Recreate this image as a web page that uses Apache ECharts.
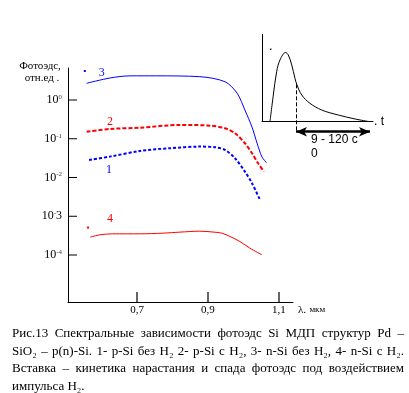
<!DOCTYPE html>
<html>
<head>
<meta charset="utf-8">
<script src="https://cdn.jsdelivr.net/npm/echarts@6/dist/echarts.min.js"></script>
<style>html,body{margin:0;padding:0;background:#fff;}#c{width:409px;height:393px;}</style>
</head>
<body>
<div id="c"></div>
<script>
// ---- data ----
const xTicks = [0.7, 0.9, 1.1];
const yTicks = [1e-4, 1e-3, 1e-2, 1e-1, 1];

// curve 3: n-Si без H2 (solid blue)
const lam3 = [0.558, 0.624, 0.680, 0.754, 0.877, 0.948, 0.982, 1.004, 1.024, 1.038, 1.052, 1.065];
const val3 = [2.7, 3.7, 4.2, 4.2, 4.0, 2.96, 1.5, 0.55, 0.20, 0.078, 0.034, 0.024];
// curve 2: p-Si с H2 (red dashed)
const lam2 = [0.558, 0.624, 0.708, 0.821, 0.906, 0.948, 0.976, 1.004, 1.024, 1.041, 1.058];
const val2 = [0.152, 0.179, 0.193, 0.227, 0.218, 0.187, 0.139, 0.0766, 0.0423, 0.0233, 0.0142];
// curve 1: p-Si без H2 (blue dashed)
const lam1 = [0.565, 0.624, 0.708, 0.793, 0.877, 0.920, 0.948, 0.976, 1.004, 1.024, 1.046];
const val1 = [0.0284, 0.0346, 0.0485, 0.0569, 0.0627, 0.0604, 0.0514, 0.0314, 0.0142, 0.00713, 0.00269];
// curve 4: n-Si с H2 (red solid)
const lam4 = [0.568, 0.596, 0.632, 0.708, 0.773, 0.821, 0.877, 0.917, 0.939, 0.962, 0.990, 1.018, 1.052];
const val4 = [2.89e-4, 3.32e-4, 3.52e-4, 3.52e-4, 3.66e-4, 3.89e-4, 4.12e-4, 3.89e-4, 3.66e-4, 3.0e-4, 2.23e-4, 1.50e-4, 1.01e-4];

// inset: kinetics of photo-emf (arbitrary units)
const insetT = [7.2, 10.2, 13.2, 16.2, 21.2, 23.7, 26.8, 29.7, 31.3, 35.8, 43.2, 53.8, 68.7, 83.8, 95.8];
const insetV = [0, 30.3, 56.9, 70.3, 78.9, 76.0, 64.6, 49.4, 42.5, 30.3, 20.8, 13.1, 7.4, 2.9, 0];

const curveLabels = ['1', '2', '3', '4'];
const captionLines = [
  'Рис.13 Спектральные зависимости фотоэдс Si МДП структур Pd –',
  'SiO₂ – p(n)-Si. 1- p-Si без H₂ 2- p-Si с H₂, 3- n-Si без H₂, 4- n-Si с H₂.',
  'Вставка – кинетика нарастания и спада фотоэдс под воздействием',
  'импульса H₂.'
];
const insetText = ['9 - 120 с', '0'];
const yTitle = ['Фотоэдс,', 'отн.ед .'];

// ---- build ----
const zip = (a, b) => a.map((v, i) => [v, b[i]]);
const BLUE = '#0000ff', RED = '#ff0000';
const SERIF = '"Liberation Serif", "Times New Roman", serif';
const SANS = '"Liberation Sans", Arial, sans-serif';

const X_MIN = 0.50563, X_MAX = 1.13944;
const LOG_MIN = -5.213, LOG_MAX = 0.826;
const Y_MIN = Math.pow(10, LOG_MIN), Y_MAX = Math.pow(10, LOG_MAX);
const G_LEFT = 68, G_TOP = 68, G_W = 225, G_H = 234;
const yTickLen = 9, xTickLen = 10;
const pxPerX = G_W / (X_MAX - X_MIN);
const pxPerDecade = G_H / (LOG_MAX - LOG_MIN);

// tick segments expressed in axis units (broken polylines)
const yTickPath = [];
yTicks.forEach(v => { yTickPath.push([X_MIN, v], [X_MIN + yTickLen / pxPerX, v], ['-', '-']); });
const xTickPath = [];
xTicks.forEach(v => { xTickPath.push([v, Y_MIN * 1.001], [v, Y_MIN * Math.pow(10, xTickLen / pxPerDecade)], ['-', '-']); });

function lbl(text, coord, color) {
  return {
    coord: coord, symbol: 'circle', symbolSize: 0,
    label: { show: true, position: 'inside', formatter: text, color: color, fontFamily: SERIF, fontSize: 12 }
  };
}

// caption layout with justification
const capFont = '13px ' + SERIF;
const mctx = document.createElement('canvas').getContext('2d');
mctx.font = capFont;
const capLeft = 12, capRight = 404, capTop = 334, capStep = 17.5;
const graphics = [];
captionLines.forEach((line, li) => {
  const y = capTop + li * capStep;
  const words = line.split(' ');
  const justify = li < captionLines.length - 1;
  const widths = words.map(w => mctx.measureText(w).width);
  const total = widths.reduce((a, b) => a + b, 0);
  const gap = justify ? (capRight - capLeft - total) / (words.length - 1) : mctx.measureText(' ').width;
  let x = capLeft;
  words.forEach((w, i) => {
    graphics.push({ type: 'text', x: x, y: y, style: { text: w, font: capFont, fill: '#000', verticalAlign: 'middle' } });
    x += widths[i] + gap;
  });
});
graphics.push({ type: 'text', x: 40, y: 66, style: { text: yTitle[0], font: '11px ' + SERIF, fill: '#000', align: 'center', verticalAlign: 'middle' } });
graphics.push({ type: 'text', x: 42, y: 78, style: { text: yTitle[1], font: '11px ' + SERIF, fill: '#000', align: 'center', verticalAlign: 'middle' } });
graphics.push({ type: 'text', x: 311, y: 140, style: { text: insetText[0], font: '12px ' + SANS, fill: '#000', verticalAlign: 'middle' } });
graphics.push({ type: 'text', x: 311, y: 154, style: { text: insetText[1], font: '12px ' + SANS, fill: '#000', verticalAlign: 'middle' } });

const yLabelFmt = function (v) {
  const e = Math.round(Math.log10(v));
  if (e === -3) return '{b|10}{s|-}{b|3}';
  return '{b|10}{s|' + e + '}';
};

const chart = echarts.init(document.getElementById('c'), null, { renderer: 'canvas' });
chart.setOption({
  animation: false,
  backgroundColor: '#fff',
  grid: [
    { left: G_LEFT, top: G_TOP, width: G_W, height: G_H },
    { left: 262, top: 34, width: 111, height: 98 }
  ],
  xAxis: [
    {
      gridIndex: 0, type: 'value', min: X_MIN, max: X_MAX,
      axisLine: { show: true, lineStyle: { color: '#000', width: 1 } },
      axisTick: { show: false },
      axisLabel: { customValues: xTicks, margin: 3, color: '#000', fontFamily: SERIF, fontSize: 11,
        formatter: v => v.toFixed(1).replace('.', ',') },
      splitLine: { show: false },
      name: '{l|λ.} {u|мкм}', nameLocation: 'end', nameGap: 5,
      nameTextStyle: { verticalAlign: 'top', padding: [2, 0, 0, 0],
        rich: { l: { fontFamily: SERIF, fontSize: 11, color: '#000' }, u: { fontFamily: SERIF, fontSize: 9, color: '#000' } } }
    },
    {
      gridIndex: 1, type: 'value', min: 0, max: 100,
      axisLine: { show: true, onZero: true, lineStyle: { color: '#000', width: 1 } },
      axisTick: { show: false }, axisLabel: { show: false }, splitLine: { show: false },
      name: '. t', nameLocation: 'end', nameGap: 1,
      nameTextStyle: { fontFamily: SANS, fontSize: 12, color: '#000' }
    }
  ],
  yAxis: [
    {
      gridIndex: 0, type: 'log', min: Y_MIN, max: Y_MAX,
      axisLine: { show: true, lineStyle: { color: '#000', width: 1 } },
      axisTick: { show: false },
      axisLabel: { customValues: yTicks, margin: 6, color: '#000', formatter: yLabelFmt,
        rich: {
          b: { fontFamily: SERIF, fontSize: 12, color: '#000' },
          s: { fontFamily: SERIF, fontSize: 7, color: '#444', verticalAlign: 'bottom', padding: [0, 0, 6, 0] }
        } },
      splitLine: { show: false }, minorTick: { show: false }
    },
    {
      gridIndex: 1, type: 'value', min: -12, max: 100,
      axisLine: { show: false }, axisTick: { show: false }, axisLabel: { show: false }, splitLine: { show: false }
    }
  ],
  series: [
    { type: 'line', xAxisIndex: 0, yAxisIndex: 0, data: zip(lam3, val3), smooth: 0.3, symbol: 'none',
      lineStyle: { color: BLUE, width: 1 },
      markPoint: { silent: true, data: [lbl(curveLabels[2], [0.601, 4.97], BLUE),
        { coord: [0.553, 5.6], symbol: 'rect', symbolSize: 2, itemStyle: { color: BLUE } }] } },
    { type: 'line', xAxisIndex: 0, yAxisIndex: 0, data: zip(lam2, val2), smooth: 0.3, symbol: 'none',
      lineStyle: { color: RED, width: 2, type: [4, 2] },
      markPoint: { silent: true, data: [lbl(curveLabels[1], [0.624, 0.271], RED)] } },
    { type: 'line', xAxisIndex: 0, yAxisIndex: 0, data: zip(lam1, val1), smooth: 0.3, symbol: 'none',
      lineStyle: { color: BLUE, width: 2, type: [3, 2] },
      markPoint: { silent: true, data: [lbl(curveLabels[0], [0.621, 0.0157], BLUE)] } },
    { type: 'line', xAxisIndex: 0, yAxisIndex: 0, data: zip(lam4, val4), smooth: 0.3, symbol: 'none',
      lineStyle: { color: RED, width: 1 },
      markPoint: { silent: true, data: [lbl(curveLabels[3], [0.624, 8.57e-4], RED),
        { coord: [0.562, 5.1e-4], symbol: 'rect', symbolSize: 2, itemStyle: { color: RED } }] } },
    { type: 'line', xAxisIndex: 1, yAxisIndex: 1, data: zip(insetT, insetV), smooth: 0.35, symbol: 'none',
      clip: false, lineStyle: { color: '#000', width: 1 },
      markLine: {
        silent: true, symbol: 'none', animation: false,
        label: { show: false },
        data: [
          [{ coord: [0, 0], lineStyle: { color: '#000', width: 1, type: 'solid' } }, { coord: [0, 100] }],
          [{ coord: [31.1, 42.5], lineStyle: { color: '#000', width: 1, type: [4, 2] } }, { coord: [31.1, -11.7] }],
          [{ coord: [30.6, -11.7], symbol: 'arrow', symbolSize: [7, 11], lineStyle: { color: '#000', width: 2.5, type: 'solid' } },
           { coord: [97.3, -11.7], symbol: 'arrow', symbolSize: [7, 11] }]
        ]
      },
      markPoint: { silent: true, data: [{ coord: [7.8, 82.5], symbol: 'rect', symbolSize: 1.5, itemStyle: { color: '#000' } }] } },
    { type: 'line', xAxisIndex: 0, yAxisIndex: 0, data: yTickPath, symbol: 'none', silent: true, clip: false,
      connectNulls: false, smooth: false, lineStyle: { color: '#000', width: 1.2 }, z: 5 },
    { type: 'line', xAxisIndex: 0, yAxisIndex: 0, data: xTickPath, symbol: 'none', silent: true, clip: false,
      connectNulls: false, smooth: false, lineStyle: { color: '#000', width: 1.2 }, z: 5 }
  ],
  graphic: graphics
});
</script>
</body>
</html>
